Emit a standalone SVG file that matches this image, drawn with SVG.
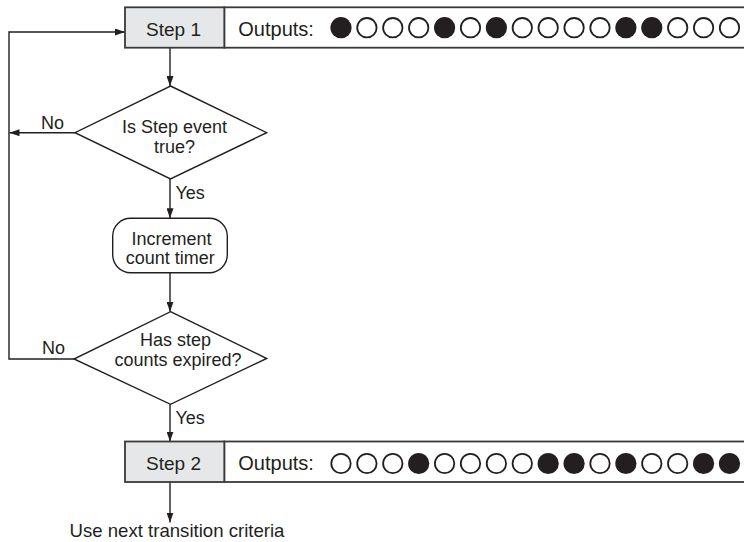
<svg xmlns="http://www.w3.org/2000/svg" width="744" height="542" viewBox="0 0 744 542">
<style>
text{font-family:"Liberation Sans",Arial,sans-serif;fill:#231f20}
.t18{font-size:18px}
.t19{font-size:19px}
.t20{font-size:20px}
.ln{fill:none;stroke:#231f20;stroke-width:1.4}
.shape{fill:#fff;stroke:#231f20;stroke-width:1.4}
.stepbox{fill:#e6e7e8;stroke:#3a3a3a;stroke-width:1.8}
.outbox{fill:#fff;stroke:#3a3a3a;stroke-width:1.8}
.on{fill:#231f20}
.off{fill:#fff;stroke:#231f20;stroke-width:1.8}
</style>
<defs>
<marker id="ah" markerWidth="10" markerHeight="7" refX="10" refY="3.5" orient="auto" markerUnits="userSpaceOnUse">
<path d="M0,0 L10,3.5 L0,7 z" fill="#231f20"/>
</marker>
</defs>
<g id="connectors">
<path class="ln" d="M170,48 V86" marker-end="url(#ah)"/>
<path class="ln" d="M75,132.7 H9.5" marker-end="url(#ah)"/>
<path class="ln" d="M74,359 H9 V32 H125" marker-end="url(#ah)"/>
<path class="ln" d="M170,179 V218.3" marker-end="url(#ah)"/>
<path class="ln" d="M170,272.7 V311.7" marker-end="url(#ah)"/>
<path class="ln" d="M170,404.3 V441.5" marker-end="url(#ah)"/>
<path class="ln" d="M170,482 V522.5" marker-end="url(#ah)"/>
<text class="t18" x="41" y="128.5">No</text>
<text class="t18" x="175.5" y="199">Yes</text>
<text class="t18" x="42" y="353.5">No</text>
<text class="t18" x="175.5" y="424">Yes</text>
</g>
<g id="step1">
<rect class="outbox" x="224.3" y="7.3" width="525" height="40.4"/>
<rect class="stepbox" x="125" y="7.3" width="99.3" height="40.4"/>
<text class="t19" x="173.5" y="36" text-anchor="middle">Step 1</text>
<text class="t20" x="238.3" y="36">Outputs:</text>
<circle class="on" cx="341" cy="27.7" r="10.6"/>
<circle class="off" cx="366.9" cy="27.7" r="9.7"/>
<circle class="off" cx="392.8" cy="27.7" r="9.7"/>
<circle class="off" cx="418.7" cy="27.7" r="9.7"/>
<circle class="on" cx="444.6" cy="27.7" r="10.6"/>
<circle class="off" cx="470.5" cy="27.7" r="9.7"/>
<circle class="on" cx="496.4" cy="27.7" r="10.6"/>
<circle class="off" cx="522.3" cy="27.7" r="9.7"/>
<circle class="off" cx="548.2" cy="27.7" r="9.7"/>
<circle class="off" cx="574.1" cy="27.7" r="9.7"/>
<circle class="off" cx="600" cy="27.7" r="9.7"/>
<circle class="on" cx="625.9" cy="27.7" r="10.6"/>
<circle class="on" cx="651.8" cy="27.7" r="10.6"/>
<circle class="off" cx="677.7" cy="27.7" r="9.7"/>
<circle class="off" cx="703.6" cy="27.7" r="9.7"/>
<circle class="off" cx="729.5" cy="27.7" r="9.7"/>
</g>
<g id="decision1">
<polygon class="shape" points="170.5,86 266.7,132.7 170.5,179 75,132.7"/>
<text class="t18" x="174.5" y="133.3" text-anchor="middle">Is Step event</text>
<text class="t18" x="174.5" y="152.7" text-anchor="middle">true?</text>
</g>
<g id="increment">
<rect class="shape" x="112.7" y="218.3" width="114.6" height="54.4" rx="18" ry="18"/>
<text class="t18" x="171.5" y="245" text-anchor="middle">Increment</text>
<text class="t18" x="170.3" y="264.3" text-anchor="middle">count timer</text>
</g>
<g id="decision2">
<polygon class="shape" points="170.5,311.7 266.7,358.5 170.5,404.3 74,359"/>
<text class="t18" x="175.5" y="346" text-anchor="middle">Has step</text>
<text class="t18" x="178" y="365.7" text-anchor="middle">counts expired?</text>
</g>
<g id="step2">
<rect class="outbox" x="224.3" y="441.5" width="525" height="40.5"/>
<rect class="stepbox" x="125" y="441.5" width="99.3" height="40.5"/>
<text class="t19" x="173.5" y="470.3" text-anchor="middle">Step 2</text>
<text class="t20" x="238.3" y="470.3">Outputs:</text>
<circle class="off" cx="341" cy="463.5" r="9.7"/>
<circle class="off" cx="366.9" cy="463.5" r="9.7"/>
<circle class="off" cx="392.8" cy="463.5" r="9.7"/>
<circle class="on" cx="418.7" cy="463.5" r="10.6"/>
<circle class="off" cx="444.6" cy="463.5" r="9.7"/>
<circle class="off" cx="470.5" cy="463.5" r="9.7"/>
<circle class="off" cx="496.4" cy="463.5" r="9.7"/>
<circle class="off" cx="522.3" cy="463.5" r="9.7"/>
<circle class="on" cx="548.2" cy="463.5" r="10.6"/>
<circle class="on" cx="574.1" cy="463.5" r="10.6"/>
<circle class="off" cx="600" cy="463.5" r="9.7"/>
<circle class="on" cx="625.9" cy="463.5" r="10.6"/>
<circle class="off" cx="651.8" cy="463.5" r="9.7"/>
<circle class="off" cx="677.7" cy="463.5" r="9.7"/>
<circle class="on" cx="703.6" cy="463.5" r="10.6"/>
<circle class="on" cx="729.5" cy="463.5" r="10.6"/>
</g>
<g id="next">
<text x="177" y="536.7" text-anchor="middle" style="font-size:18.6px">Use next transition criteria</text>
</g>
</svg>
